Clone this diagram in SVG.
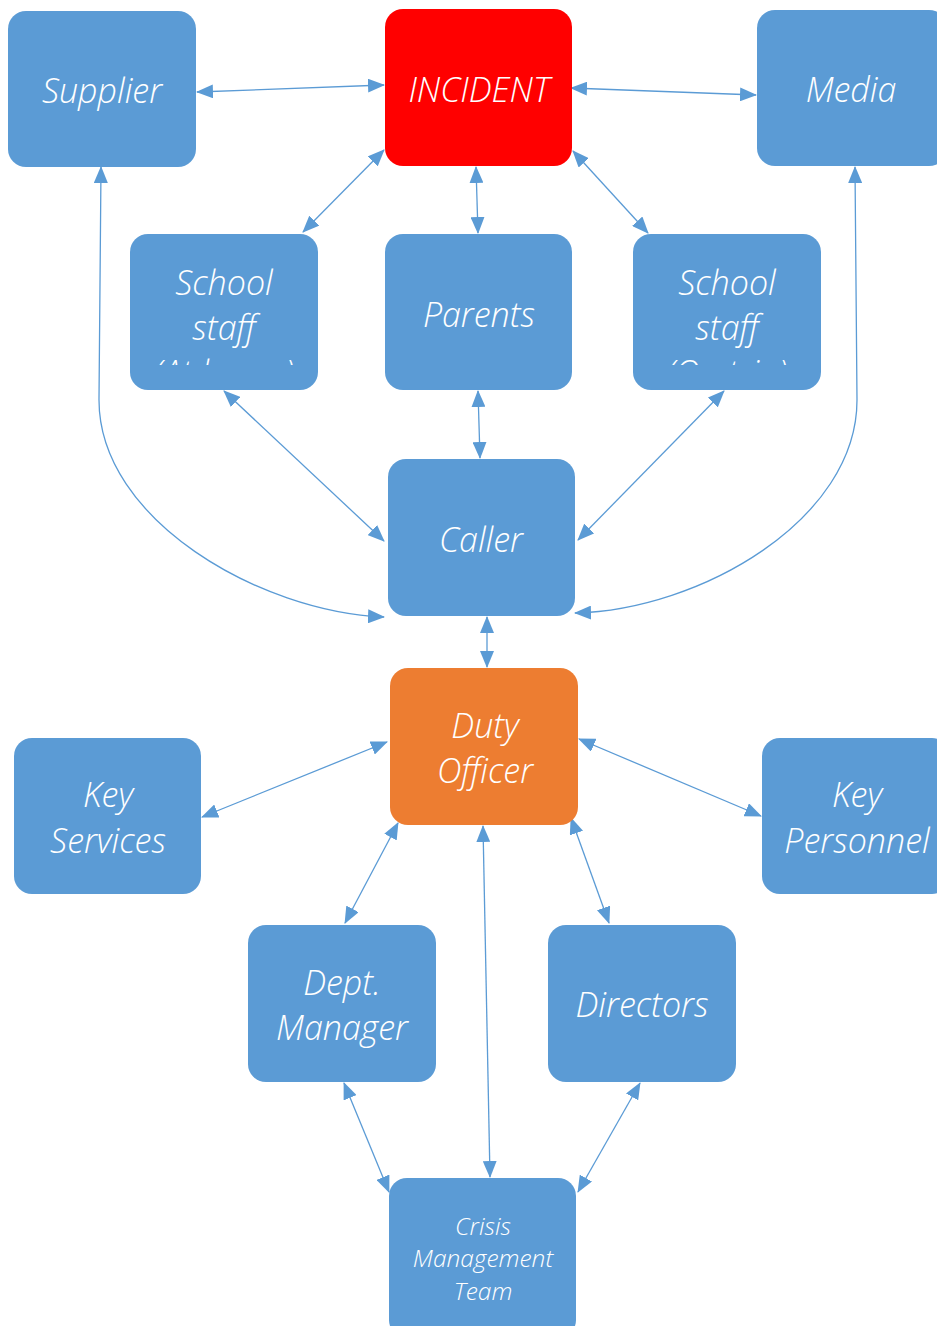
<svg xmlns="http://www.w3.org/2000/svg" width="937" height="1326" viewBox="0 0 937 1326">
<defs>
<style>
.n{fill:#5B9BD5}
.t{fill:#fff;font-family:"Open Sans","Noto Sans",sans-serif;font-style:italic;font-weight:300;font-size:34px;text-anchor:middle}
.s{font-size:24.5px}
.c{fill:none;stroke:#5B9BD5;stroke-width:1.3}
</style>
<marker id="a" markerUnits="userSpaceOnUse" markerWidth="18" markerHeight="14" refX="16" refY="7" orient="auto-start-reverse" viewBox="0 0 18 14">
<path d="M0,0 L17,7 L0,14 Z" fill="#5B9BD5"/>
</marker>
<clipPath id="cl1"><rect x="130" y="234" width="188" height="131"/></clipPath>
<clipPath id="cl2"><rect x="633" y="234" width="188" height="131"/></clipPath>
</defs>
<rect width="937" height="1326" fill="#fff"/>
<g id="connectors">
<path class="c" marker-start="url(#a)" marker-end="url(#a)" d="M197,92 L384,85"/>
<path class="c" marker-start="url(#a)" marker-end="url(#a)" d="M571,88 L756,95"/>
<path class="c" marker-start="url(#a)" marker-end="url(#a)" d="M384,150 L303,232"/>
<path class="c" marker-start="url(#a)" marker-end="url(#a)" d="M476,167 L478,233"/>
<path class="c" marker-start="url(#a)" marker-end="url(#a)" d="M573,151 L648,233"/>
<path class="c" marker-start="url(#a)" marker-end="url(#a)" d="M224,391 L384,541"/>
<path class="c" marker-start="url(#a)" marker-end="url(#a)" d="M478,391 L480,458"/>
<path class="c" marker-start="url(#a)" marker-end="url(#a)" d="M724,391 L578,540"/>
<path class="c" marker-start="url(#a)" marker-end="url(#a)" d="M101,167 L99,400 C99,520 260,612 384,617"/>
<path class="c" marker-start="url(#a)" marker-end="url(#a)" d="M855,167 L857,400 C857,520 700,610 575,613"/>
<path class="c" marker-start="url(#a)" marker-end="url(#a)" d="M487,617 L487,667"/>
<path class="c" marker-start="url(#a)" marker-end="url(#a)" d="M387,742 L202,817"/>
<path class="c" marker-start="url(#a)" marker-end="url(#a)" d="M579,739 L761,816"/>
<path class="c" marker-start="url(#a)" marker-end="url(#a)" d="M398,823 L345,923"/>
<path class="c" marker-start="url(#a)" marker-end="url(#a)" d="M571,818 L609,923"/>
<path class="c" marker-start="url(#a)" marker-end="url(#a)" d="M483,826 L490,1177"/>
<path class="c" marker-start="url(#a)" marker-end="url(#a)" d="M344,1083 L389,1192"/>
<path class="c" marker-start="url(#a)" marker-end="url(#a)" d="M640,1083 L578,1192"/>
</g>
<g id="supplier"><rect class="n" x="8" y="11" width="188" height="156" rx="18"/><text class="t" x="102" y="103">Supplier</text></g>
<g id="incident"><rect x="385" y="9" width="187" height="157" rx="18" fill="#FF0000"/><text class="t" x="479" y="102">INCIDENT</text></g>
<g id="media"><rect class="n" x="757" y="10" width="190" height="156" rx="18"/><text class="t" x="851" y="102">Media</text></g>
<g id="school-staff-left"><rect class="n" x="130" y="234" width="188" height="156" rx="18"/><g clip-path="url(#cl1)"><text class="t" x="224" y="295">School</text><text class="t" x="224" y="340">staff</text><text class="t" x="224" y="385">(At home)</text></g></g>
<g id="parents"><rect class="n" x="385" y="234" width="187" height="156" rx="18"/><text class="t" x="479" y="327">Parents</text></g>
<g id="school-staff-right"><rect class="n" x="633" y="234" width="188" height="156" rx="18"/><g clip-path="url(#cl2)"><text class="t" x="727" y="295">School</text><text class="t" x="727" y="340">staff</text><text class="t" x="727" y="385">(On trip)</text></g></g>
<g id="caller"><rect class="n" x="388" y="459" width="187" height="157" rx="18"/><text class="t" x="481" y="552">Caller</text></g>
<g id="duty-officer"><rect x="390" y="668" width="188" height="157" rx="18" fill="#ED7D31"/><text class="t" x="485" y="738">Duty</text><text class="t" x="485" y="783">Officer</text></g>
<g id="key-services"><rect class="n" x="14" y="738" width="187" height="156" rx="18"/><text class="t" x="108" y="807">Key</text><text class="t" x="108" y="853">Services</text></g>
<g id="key-personnel"><rect class="n" x="762" y="738" width="188" height="156" rx="18"/><text class="t" x="857" y="807">Key</text><text class="t" x="857" y="853">Personnel</text></g>
<g id="dept-manager"><rect class="n" x="248" y="925" width="188" height="157" rx="18"/><text class="t" x="342" y="995">Dept.</text><text class="t" x="342" y="1040">Manager</text></g>
<g id="directors"><rect class="n" x="548" y="925" width="188" height="157" rx="18"/><text class="t" x="642" y="1017">Directors</text></g>
<g id="crisis-management-team"><rect class="n" x="389" y="1178" width="187" height="160" rx="18"/><text class="t s" x="483" y="1235">Crisis</text><text class="t s" x="483" y="1267">Management</text><text class="t s" x="483" y="1300">Team</text></g>
</svg>
